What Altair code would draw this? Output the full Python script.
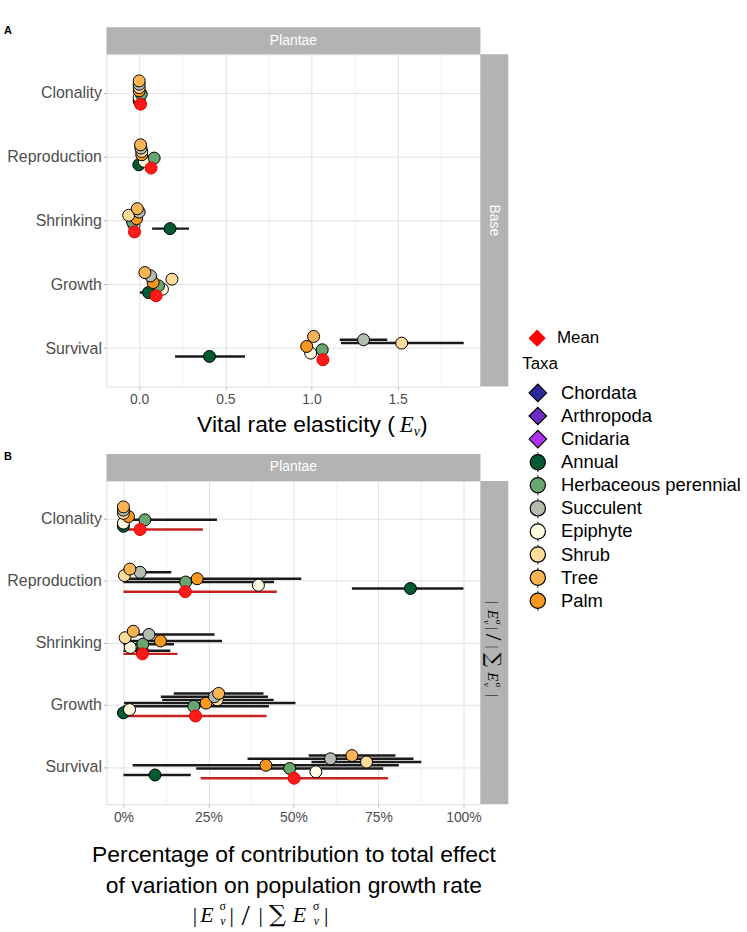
import json
import altair as alt
import pandas as pd

# ---------------- data ----------------
rates = ["Clonality", "Reproduction", "Shrinking", "Growth", "Survival"]
plant_taxa = ["Annual", "Epiphyte", "Herbaceous perennial", "Palm", "Shrub", "Succulent", "Tree"]
plant_colors = ["#005A32", "#FFFCE0", "#69A56E", "#F8971D", "#FEDC9B", "#B2BDAF", "#FDB455"]

# Panel A: vital rate elasticity (order of rates as above)
elas_val = {
    "Annual": [0.0, -0.002, 0.179, 0.054, 0.408],
    "Epiphyte": [0.0, 0.03, -0.03, 0.135, 0.995],
    "Herbaceous perennial": [0.012, 0.087, -0.038, 0.112, 1.062],
    "Palm": [0.0, 0.015, -0.015, 0.081, 0.972],
    "Shrub": [0.0, 0.015, -0.061, 0.19, 1.523],
    "Succulent": [0.0, 0.01, 0.0, 0.066, 1.302],
    "Tree": [0.0, 0.008, -0.011, 0.033, 1.012],
    "Mean": [0.008, 0.069, -0.027, 0.098, 1.066],
}
elas_lo = {
    "Annual": [0.0, -0.002, 0.075, 0.004, 0.208],
    "Epiphyte": [0.0, 0.03, -0.03, 0.135, 0.995],
    "Herbaceous perennial": [0.012, 0.087, -0.038, 0.112, 1.062],
    "Palm": [0.0, 0.015, -0.015, 0.081, 0.972],
    "Shrub": [0.0, 0.015, -0.061, 0.19, 1.171],
    "Succulent": [0.0, 0.01, 0.0, 0.066, 1.164],
    "Tree": [0.0, 0.008, -0.011, 0.033, 1.012],
    "Mean": [0.008, 0.069, -0.027, 0.098, 1.066],
}
elas_hi = {
    "Annual": [0.0, -0.002, 0.289, 0.10, 0.614],
    "Epiphyte": [0.0, 0.03, -0.03, 0.135, 0.995],
    "Herbaceous perennial": [0.012, 0.087, -0.038, 0.112, 1.062],
    "Palm": [0.0, 0.015, -0.015, 0.081, 0.972],
    "Shrub": [0.0, 0.015, -0.061, 0.19, 1.883],
    "Succulent": [0.0, 0.01, 0.0, 0.066, 1.44],
    "Tree": [0.0, 0.008, -0.011, 0.033, 1.012],
    "Mean": [0.008, 0.069, -0.027, 0.098, 1.066],
}

# Panel B: share of total effect of variation
contr_val = {
    "Annual": [0.0, 0.844, 0.055, 0.0, 0.093],
    "Epiphyte": [0.0, 0.397, 0.02, 0.018, 0.566],
    "Herbaceous perennial": [0.063, 0.183, 0.057, 0.207, 0.489],
    "Palm": [0.015, 0.217, 0.109, 0.243, 0.419],
    "Shrub": [0.0, 0.003, 0.005, 0.276, 0.715],
    "Succulent": [0.0, 0.049, 0.075, 0.268, 0.609],
    "Tree": [0.0, 0.019, 0.029, 0.28, 0.672],
    "Mean": [0.049, 0.182, 0.056, 0.212, 0.502],
}
contr_lo = {
    "Annual": [0.0, 0.672, 0.0, 0.0, 0.0],
    "Epiphyte": [0.0, 0.397, 0.02, 0.018, 0.566],
    "Herbaceous perennial": [0.0, 0.0, 0.0, 0.0, 0.214],
    "Palm": [0.015, 0.0, 0.0, 0.002, 0.027],
    "Shrub": [0.0, 0.0, 0.005, 0.114, 0.553],
    "Succulent": [0.0, 0.0, 0.0, 0.11, 0.365],
    "Tree": [0.0, 0.019, 0.029, 0.148, 0.545],
    "Mean": [0.0, 0.0, 0.0, 0.0, 0.227],
}
contr_hi = {
    "Annual": [0.0, 1.0, 0.138, 0.0, 0.198],
    "Epiphyte": [0.0, 0.397, 0.02, 0.018, 0.566],
    "Herbaceous perennial": [0.275, 0.443, 0.149, 0.428, 0.764],
    "Palm": [0.015, 0.523, 0.29, 0.506, 0.81],
    "Shrub": [0.0, 0.003, 0.005, 0.442, 0.876],
    "Succulent": [0.0, 0.141, 0.268, 0.425, 0.853],
    "Tree": [0.0, 0.019, 0.029, 0.412, 0.8],
    "Mean": [0.234, 0.451, 0.159, 0.421, 0.778],
}

legend_taxa = ["Chordata", "Arthropoda", "Cnidaria", "Annual", "Herbaceous perennial",
               "Succulent", "Epiphyte", "Shrub", "Tree", "Palm"]
legend_colors = ["#2C2A9A", "#6E2BC6", "#B030F0", "#005A32", "#69A56E",
                 "#B2BDAF", "#FFFCE0", "#FEDC9B", "#FDB455", "#F8971D"]
legend_shapes = ["diamond"] * 3 + ["circle"] * 7

# ---------------- helpers ----------------
FONT = "Liberation Sans"
SERIF = "Liberation Serif"
MATH = "DejaVu Serif"
STRIP = "#B3B3B3"
W = 376
one = pd.DataFrame({"k": [0]})

dodge_order = ["Tree", "Succulent", "Shrub", "Palm", "Herbaceous perennial", "Epiphyte", "Annual", "Mean"]
DODGE = 0.052


def build(vals, los, his):
    rows = []
    for taxon in plant_taxa + ["Mean"]:
        k = dodge_order.index(taxon)
        for ri, r in enumerate(rates):
            rows.append({
                "rate": r, "taxon": taxon,
                "value": vals[taxon][ri], "lo": los[taxon][ri], "hi": his[taxon][ri],
                "ypos": ri + (k - 3.5) * DODGE,
                "draw": (plant_taxa + ["Mean"]).index(taxon),
            })
    return pd.DataFrame(rows)


def txt(s, x, y, size, font=FONT, style="normal", angle=0, color="black",
        align="center", baseline="middle", weight="normal"):
    return alt.Chart(one).mark_text(
        text=s, font=font, fontSize=size, fontStyle=style, angle=angle, color=color,
        align=align, baseline=baseline, fontWeight=weight
    ).encode(x=alt.value(x), y=alt.value(y))


def rect(x1, x2, y1, y2, color=STRIP):
    return alt.Chart(one).mark_rect(color=color).encode(
        x=alt.value(x1), x2=alt.value(x2), y=alt.value(y1), y2=alt.value(y2))


label_expr_y = json.dumps(rates).replace('"', "'") + "[round(datum.value)]"


def panel(df, H, xdomain, xvals, major_test, xlabel_expr, xtitle, title_pad, extra):
    xscale = alt.Scale(domain=xdomain, nice=False, zero=False)
    yscale = alt.Scale(domain=[-0.6, 4.6], reverse=True, nice=False, zero=False)
    xaxis = alt.Axis(
        values=xvals, labelExpr=xlabel_expr, title=xtitle, grid=True,
        gridColor={"condition": {"test": major_test, "value": "#E2E2E2"}, "value": "#F1F1F1"},
        tickColor="#B3B3B3", tickSize=3,
        tickOpacity={"condition": {"test": major_test, "value": 1}, "value": 0},
        domain=False, labelFontSize=14, labelColor="#4D4D4D", labelFont=FONT, labelPadding=3,
        titleFontSize=23, titleFont=FONT, titleColor="black", titleFontWeight="normal",
        titleLineHeight=31, titlePadding=title_pad,
    )
    yaxis = alt.Axis(
        values=[0, 1, 2, 3, 4], labelExpr=label_expr_y, title=None, grid=True,
        gridColor="#E2E2E2", tickColor="#B3B3B3", tickSize=3, domain=False,
        labelFontSize=16, labelColor="#4D4D4D", labelFont=FONT, labelPadding=2,
    )
    base = alt.Chart(df)
    plants = base.transform_filter(alt.datum.taxon != "Mean")
    means = base.transform_filter(alt.datum.taxon == "Mean")
    bars = plants.mark_rule(strokeWidth=2.5, color="#1A1A1A").encode(
        x=alt.X("lo:Q", scale=xscale, axis=xaxis),
        x2="hi:Q",
        y=alt.Y("ypos:Q", scale=yscale, axis=yaxis),
    )
    mbars = means.mark_rule(strokeWidth=2.5, color="#C62222").encode(
        x=alt.X("lo:Q", scale=xscale, axis=xaxis),
        x2="hi:Q",
        y=alt.Y("ypos:Q", scale=yscale, axis=yaxis),
    )
    pts = plants.mark_circle(size=145, stroke="black", strokeWidth=1, opacity=1).encode(
        x=alt.X("value:Q", scale=xscale, axis=xaxis),
        y=alt.Y("ypos:Q", scale=yscale, axis=yaxis),
        fill=alt.Fill("taxon:N", scale=alt.Scale(domain=plant_taxa, range=plant_colors), legend=None),
        order=alt.Order("draw:Q"),
    )
    mpts = means.mark_circle(size=145, stroke="#E00000", strokeWidth=1, opacity=1, fill="#FF1A1A").encode(
        x=alt.X("value:Q", scale=xscale, axis=xaxis),
        y=alt.Y("ypos:Q", scale=yscale, axis=yaxis),
    )
    layers = [bars, mbars, pts, mpts,
              rect(0, W, -27, 0), txt("Plantae", W / 2, -13.5, 14, color="white"),
              rect(W, W + 28, 0, H)] + extra
    return alt.layer(*layers).properties(width=W, height=H)


# ---------------- panel A ----------------
HA = 334
dfA = build(elas_val, elas_lo, elas_hi)
testA = "abs(datum.value*2 - round(datum.value*2)) < 0.001"
extraA = [
    txt("Base", W + 14, HA / 2, 14, color="white", angle=90),
    txt("A", -103, -29, 11, weight="bold", align="left", baseline="top"),
    txt("Vital rate elasticity (", 290, 373, 23, align="right"),
    txt("E", 302, 373, 23, font=SERIF, style="italic"),
    txt("v", 312, 380, 14, font=SERIF, style="italic"),
    txt(")", 319, 373, 23),
]
chartA = panel(
    dfA, HA, [-0.19, 1.98], [0, 0.25, 0.5, 0.75, 1.0, 1.25, 1.5, 1.75], testA,
    f"({testA}) ? format(datum.value, '.1f') : ''", None, 3, extraA,
)

# ---------------- panel B ----------------
HB = 325
dfB = build(contr_val, contr_lo, contr_hi)
testB = "abs(datum.value*4 - round(datum.value*4)) < 0.001"
sx, sup, sub = W + 13, W + 19, W + 7
MY = 436
extraB = [
    txt("B", -103, -30, 11, weight="bold", align="left", baseline="top"),
    # rotated math in right strip
    txt("|", sx, 122, 15, font=SERIF, angle=90),
    txt("E", sx, 134, 15, font=SERIF, style="italic", angle=90),
    txt("σ", sup, 142, 9, font=SERIF, angle=90),
    txt("v", sub, 142, 9, font=SERIF, style="italic", angle=90),
    txt("|", sx, 148, 15, font=SERIF, angle=90),
    txt("/", sx, 157, 24, font=SERIF, angle=90),
    txt("|", sx, 167, 15, font=SERIF, angle=90),
    txt("∑", sx, 180, 20, font=MATH, angle=90),
    txt("E", sx, 197, 15, font=SERIF, style="italic", angle=90),
    txt("σ", sup, 205, 9, font=SERIF, angle=90),
    txt("v", sub, 205, 9, font=SERIF, style="italic", angle=90),
    txt("|", sx, 216, 15, font=SERIF, angle=90),
    # math line under axis title
    txt("|", 89, MY, 22, font=SERIF),
    txt("E", 101, MY, 22, font=SERIF, style="italic"),
    txt("σ", 117, MY - 9, 12, font=SERIF),
    txt("v", 117, MY + 6, 12, font=SERIF, style="italic"),
    txt("|", 126, MY, 22, font=SERIF),
    txt("/", 140, MY + 1, 30, font=SERIF),
    txt("|", 155, MY, 22, font=SERIF),
    txt("∑", 172, MY, 24, font=MATH),
    txt("E", 194, MY, 22, font=SERIF, style="italic"),
    txt("σ", 211, MY - 9, 12, font=SERIF),
    txt("v", 211, MY + 6, 12, font=SERIF, style="italic"),
    txt("|", 221, MY, 22, font=SERIF),
]
chartB = panel(
    dfB, HB, [-0.05, 1.05], [i * 0.125 for i in range(9)], testB,
    f"({testB}) ? format(datum.value, '.0%') : ''",
    ["Percentage of contribution to total effect", "of variation on population growth rate"],
    20, extraB,
)

# ---------------- legend ----------------
legdf = pd.DataFrame({
    "label": legend_taxa,
    "idx": list(range(len(legend_taxa))),
    "shape": legend_shapes,
    "color": legend_colors,
    "sz": [310 if s == "diamond" else 235 for s in legend_shapes],
})
ly = alt.Y("idx:Q", scale=alt.Scale(domain=[0, 9], range=[340.5, 549.5]), axis=None)
leg_ticks = alt.Chart(legdf).transform_filter(alt.datum.shape == "circle").mark_tick(
    orient="vertical", size=20, thickness=1.3, color="black").encode(x=alt.value(15.7), y=ly)
leg_pts = alt.Chart(legdf).mark_point(filled=True, stroke="black", strokeWidth=1.2, opacity=1).encode(
    x=alt.value(15.7), y=ly,
    shape=alt.Shape("shape:N", scale=None),
    fill=alt.Fill("color:N", scale=None),
    size=alt.Size("sz:Q", scale=None),
)
leg_txt = alt.Chart(legdf).mark_text(align="left", baseline="middle", fontSize=18.5, font=FONT,
                                     color="black").encode(x=alt.value(39), y=ly, text="label:N")
mean_pt = alt.Chart(one).mark_point(shape="diamond", filled=True, color="#FF0000", size=300,
                                    opacity=1).encode(x=alt.value(15), y=alt.value(285.5))
legend = alt.layer(
    leg_ticks, leg_pts, leg_txt, mean_pt,
    txt("Mean", 35, 285.5, 17, align="left"),
    txt("Taxa", 0, 311.5, 17, align="left"),
).properties(width=225, height=600, view=alt.ViewBackground(stroke="transparent"))

left = alt.vconcat(chartA, chartB, spacing=10).resolve_scale(x="independent", y="independent")
chart = alt.hconcat(left, legend, spacing=12).resolve_scale(x="independent", y="independent").properties(
    padding={"left": 3, "top": 22, "right": 0, "bottom": 0}
).configure_view(stroke="#CCCCCC").configure(font=FONT)

chart.save("out.html", embed_options={"renderer": "svg", "actions": False})
